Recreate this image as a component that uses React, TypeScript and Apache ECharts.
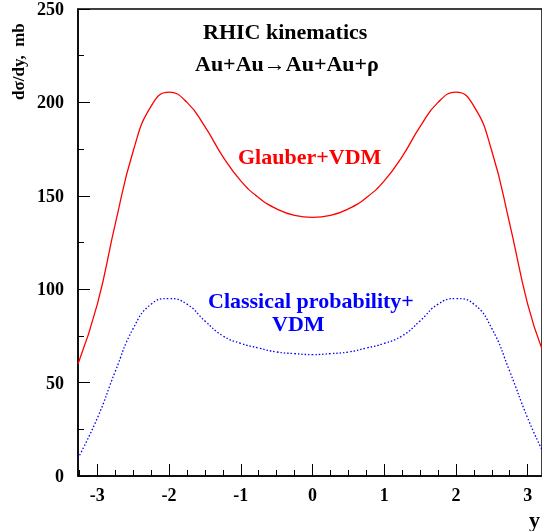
import { useEffect, useRef } from 'react';
import * as echarts from 'echarts';

const rapidity = [-3.27, -3.0, -2.75, -2.5, -2.25, -2.0, -1.75, -1.5, -1.25, -1.0, -0.75, -0.5, -0.25, 0,
    0.25, 0.5, 0.75, 1.0, 1.25, 1.5, 1.75, 2.0, 2.25, 2.5, 2.75, 3.0, 3.2];
const glauber = [60, 92, 135, 174, 198, 205.5, 200, 187, 171, 158, 149, 143, 139.5, 138.5,
    139.5, 143, 149, 158, 171, 187, 200, 205.5, 198, 174, 135, 92, 68];
const classical = [9.5, 31, 56, 79, 92, 95, 92, 83, 75, 71, 68.5, 66.4, 65.5, 65,
    65.5, 66.4, 68.5, 71, 75, 83, 92, 95, 92, 79, 56, 31, 14];
const xMajor = [-3, -2, -1, 0, 1, 2, 3];
const xMinor = [-3.25, -2.75, -2.5, -2.25, -1.75, -1.5, -1.25, -0.75, -0.5, -0.25,
    0.25, 0.5, 0.75, 1.25, 1.5, 1.75, 2.25, 2.5, 2.75];

const font = 'Liberation Serif';

export default function App() {
    const ref = useRef<HTMLDivElement>(null);

    useEffect(() => {
        if (!ref.current) return;
        const chart = echarts.init(ref.current, undefined, { renderer: 'svg' });
        const label = { fontFamily: font, fontWeight: 'bold' as const, fontSize: 18, color: '#000' };
        const txt = (text: string, x: number, y: number, fill: string) =>
            ({ type: 'text', x, y, style: { text, ...label, fill, fontSize: 22 } });
        chart.setOption({
            animation: false,
            grid: { left: 78, right: 0, top: 8, bottom: 55, show: true, borderColor: '#000', borderWidth: 1.5 },
            xAxis: [
                {
                    type: 'value', min: -3.27, max: 3.2,
                    axisLine: { onZero: false, lineStyle: { color: '#000', width: 1.5 } },
                    axisTick: { inside: true, length: 12, lineStyle: { color: '#000' }, customValues: xMajor },
                    splitLine: { show: false },
                    axisLabel: { ...label, margin: 10, customValues: xMajor },
                },
                {
                    type: 'value', min: -3.27, max: 3.2, position: 'bottom',
                    axisLine: { show: false, onZero: false },
                    axisTick: { inside: true, length: 6, lineStyle: { color: '#000' }, customValues: xMinor },
                    splitLine: { show: false },
                    axisLabel: { show: false },
                },
            ],
            yAxis: {
                type: 'value', min: 0, max: 250, interval: 50,
                axisLine: { onZero: false, lineStyle: { color: '#000', width: 1.5 } },
                axisTick: { inside: true, length: 12, lineStyle: { color: '#000' } },
                minorTick: { show: true, splitNumber: 2, length: 6, lineStyle: { color: '#000' } },
                splitLine: { show: false },
                axisLabel: { ...label, margin: 14 },
            },
            graphic: [
                { type: 'text', x: 10, y: 100, rotation: Math.PI / 2, style: { text: 'dσ/dy,  mb', ...label, fill: '#000', fontSize: 17 } },
                txt('RHIC kinematics', 203, 20, '#000'),
                txt('Au+Au→Au+Au+ρ', 195, 52, '#000'),
                txt('Glauber+VDM', 238, 145, '#ff0000'),
                txt('Classical probability+', 208, 289, '#0000ff'),
                txt('VDM', 272, 312, '#0000ff'),
                txt('y', 529, 508, '#000'),
            ],
            series: [
                {
                    type: 'line', smooth: 0.5, symbol: 'none',
                    data: rapidity.map((x, i) => [x, glauber[i]]),
                    lineStyle: { color: '#ff0000', width: 1.3 },
                },
                {
                    type: 'line', smooth: 0.5, symbol: 'none',
                    data: rapidity.map((x, i) => [x, classical[i]]),
                    lineStyle: { color: '#0000ff', width: 1.3, type: [1.5, 2] },
                },
            ],
        });
        return () => chart.dispose();
    }, []);

    return <div ref={ref} style={{ position: 'fixed', left: 0, top: 0, width: 542, height: 531 }} />;
}
